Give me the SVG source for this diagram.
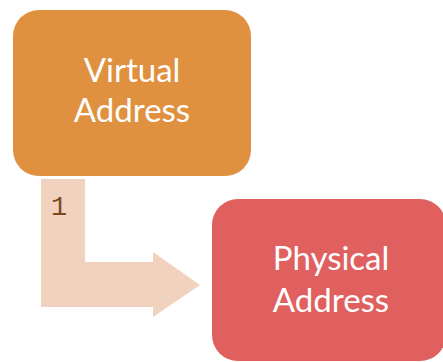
<svg xmlns="http://www.w3.org/2000/svg" width="443" height="362" viewBox="0 0 443 362">
<style>
.lbl{font-family:Lato,"Open Sans",sans-serif;font-size:33px;fill:#ffffff;text-anchor:middle}
.num{font-family:"Liberation Mono",monospace;font-size:27px;fill:#7B4A1C}
</style>
<rect width="443" height="362" fill="#ffffff"/>
<g id="connectors">
<path d="M41 179 H85 V262 H153 V252 L200 285 L153 317 V307 H41 Z" fill="#F0D2BE"/>
<text class="num" x="51" y="215">1</text>
</g>
<g id="virtual">
<rect x="13" y="10" width="238" height="166" rx="26" fill="#E09140"/>
<text class="lbl" x="132" y="82">Virtual</text>
<text class="lbl" x="132" y="122">Address</text>
</g>
<g id="physical">
<rect x="212" y="199" width="234" height="162" rx="26" fill="#E06060"/>
<text class="lbl" x="331" y="270">Physical</text>
<text class="lbl" x="331" y="312">Address</text>
</g>
</svg>
